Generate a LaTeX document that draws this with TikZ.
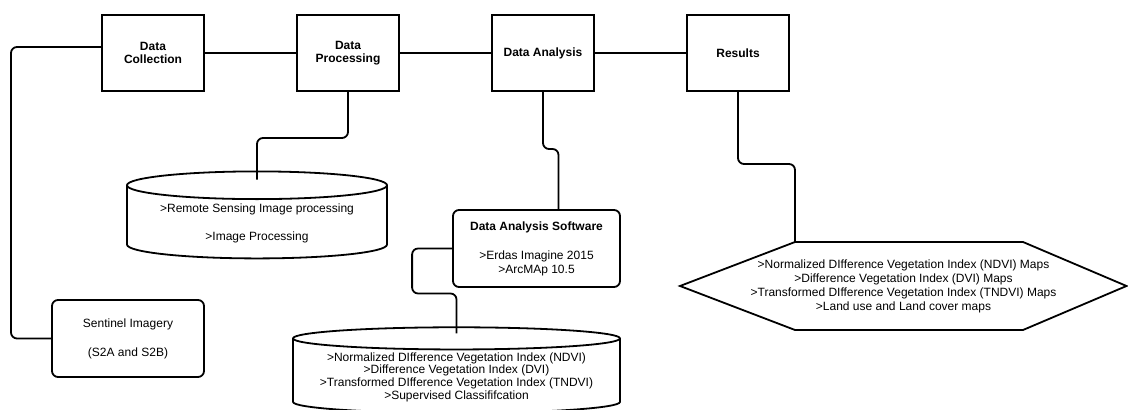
\documentclass[tikz,border=0pt]{standalone}
\usepackage{fontspec}
\setmainfont{Liberation Sans}
\usetikzlibrary{positioning,calc,shapes.geometric}

\begin{document}
\begin{tikzpicture}[x=0.5pt, y=-0.5pt,
  box/.style={draw, line width=1pt, minimum width=51pt, minimum height=38pt, align=center,
              font=\fontsize{6}{6.75}\selectfont\bfseries, inner sep=1pt},
  rbox/.style={draw, line width=0.9pt, rounded corners=3pt, align=center,
               font=\fontsize{6}{7}\selectfont, inner sep=1pt},
  db/.style={cylinder, shape border rotate=90, draw, line width=0.9pt, align=center,
             font=\fontsize{6}{7}\selectfont, inner sep=1pt},
  hextext/.style={align=center, font=\fontsize{6}{7}\selectfont, inner sep=1pt},
  hexline/.style={draw, line width=0.9pt},
  link/.style={line width=0.9pt, rounded corners=3pt},
  node distance=45.5pt
]
\useasboundingbox (0,0) rectangle (1128,410);
\node[box] (dc) at (153,53) {Data\\Collection};
\node[box, right=of dc] (dp) {Data\\Processing};
\node[box, right=of dp] (da) {Data Analysis};
\node[box, right=of da] (res) {Results};
\node[rbox, minimum width=76pt, minimum height=38.5pt] (sen) at (128,338.5)
  {Sentinel Imagery\\[7.5pt](S2A and S2B)};
\node[db, minimum width=130pt, minimum height=43.5pt, aspect=0.14] (rs) at (257,223.5)
  {>Remote Sensing Image processing\\[7pt]>Image Processing};
\node[rbox, minimum width=83.5pt, minimum height=38.5pt] (das) at (536.5,248.5)
  {\textbf{Data Analysis Software}\\[7.5pt]>Erdas Imagine 2015\\>ArcMAp 10.5};
\node[db, minimum width=163.5pt, minimum height=39pt, aspect=0.08,
      font=\fontsize{6}{6.35}\selectfont] (idx) at (456.5,377)
  {>Normalized DIfference Vegetation Index (NDVI)\\>Difference Vegetation Index (DVI)\\
   >Transformed DIfference Vegetation Index (TNDVI)\\>Supervised Classififcation};
\node[hextext] (maps) at (903.5,286)
  {>Normalized DIfference Vegetation Index (NDVI) Maps\\>Difference Vegetation Index (DVI) Maps\\
   >Transformed DIfference Vegetation Index (TNDVI) Maps\\>Land use and Land cover maps};
\coordinate (hexw) at ($(maps)+(-223.5,0)$);
\coordinate (hexnw) at ($(maps)+(-108.5,-44)$);
\coordinate (hexne) at ($(maps)+(119.5,-44)$);
\coordinate (hexe) at ($(maps)+(223,0)$);
\coordinate (hexse) at ($(maps)+(119.5,44)$);
\coordinate (hexsw) at ($(maps)+(-108.5,44)$);
\draw[hexline] (hexw) -- (hexnw) -- (hexne) -- (hexe) -- (hexse) -- (hexsw) -- cycle;
\draw[link] (dc.east) -- (dp.west);
\draw[link] (dp.east) -- (da.west);
\draw[link] (da.east) -- (res.west);
\draw[link] ([yshift=3pt]dc.west) -- ++(-90,0) |- (sen.west);
\draw[link, shorten >=-4.5pt] (dp.south) -- ++(0,46) -| (rs.north);
\draw[link] (da.south) -- ++(0,57) -| ($(das.north)+(22,0)$);
\draw[link, shorten >=-3.5pt] (das.west) -- ++(-40,0) -- ++(0,45) -| (idx.north);
\draw[link] (res.south) -- ++(0,72) -| (hexnw);
\end{tikzpicture}
\end{document}
